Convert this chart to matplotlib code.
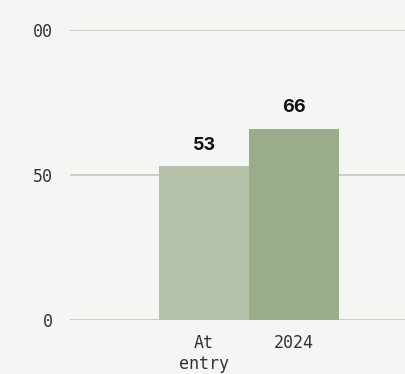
import matplotlib
matplotlib.use("Agg")
import matplotlib.pyplot as plt

categories = ["At\nentry", "2024"]
values = [53, 66]
ytick_values = [0, 50, 100]
ytick_labels = ["0", "50", "00"]

bar_colors = ["#b5c2a9", "#9aac8a"]
bg = "#f4f6f3"
grid_color = "#bfc9b8"

W, H = 406, 374
fig = plt.figure(figsize=(W / 100, H / 100), dpi=100)
fig.patch.set_facecolor(bg)

ax = fig.add_axes([70 / W, 54 / H, 336 / W, 290 / H])
ax.set_facecolor(bg)

x = list(range(len(categories)))
ax.bar(x, values, width=1.0, color=bar_colors, zorder=2)

for xi, v in zip(x, values):
    ax.annotate(str(v), (xi, v), xytext=(0, 9), textcoords="offset points",
                ha="center", va="bottom", fontsize=13, fontweight="bold",
                family=["Inter", "DejaVu Sans"], color="#111111")

ax.set_ylim(0, 100)
ax.set_xlim(-134 / 90, (406 - 204) / 90)

ax.set_yticks(ytick_values)
ax.set_yticklabels(ytick_labels, family="DejaVu Sans Mono", fontsize=12, color="#333333")
ax.set_xticks(x)
ax.set_xticklabels(categories, family="DejaVu Sans Mono", fontsize=12, color="#333333",
                   linespacing=1.2)
ax.tick_params(axis="y", length=0, pad=12)
ax.tick_params(axis="x", length=0, pad=10)

ax.grid(axis="y", color=grid_color, linewidth=1.2, zorder=1)
ax.set_axisbelow(True)
for s in ax.spines.values():
    s.set_visible(False)

fig.savefig("out.png", dpi=100, facecolor=bg)
